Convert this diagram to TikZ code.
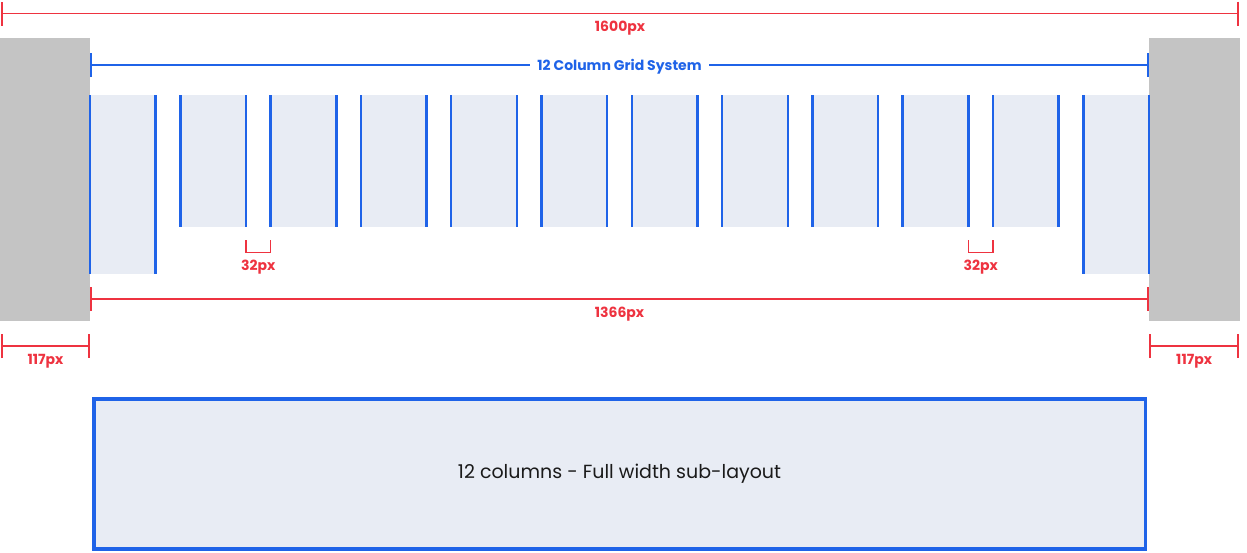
\documentclass[tikz,border=0pt]{standalone}
\usepackage{fontspec}
\setmainfont{Poppins}
\usepackage{tikz}
\usetikzlibrary{shapes,arrows.meta,positioning}
\definecolor{gridblue}{HTML}{1F63E8}
\definecolor{dimred}{HTML}{EE3340}
\definecolor{margingray}{HTML}{C4C4C4}
\definecolor{colfill}{HTML}{E8ECF4}
\definecolor{textblack}{HTML}{1A1A1A}

\begin{document}
\begin{tikzpicture}[x=1pt, y=-1pt, inner sep=0pt, outer sep=0pt]
        \tikzstyle{margin} = [rectangle, fill=margingray, minimum width=90pt, minimum height=283pt, anchor=north west]
        \tikzstyle{colline} = [draw=gridblue, line width=2.5pt]
        \tikzstyle{column} = [rectangle, fill=colfill, minimum width=65.7pt, anchor=north west, append after command={(\tikzlastnode.north west) edge[colline] (\tikzlastnode.south west) (\tikzlastnode.north east) edge[colline] (\tikzlastnode.south east)}]
        \tikzstyle{tall column} = [column, minimum height=179pt]
        \tikzstyle{short column} = [column, minimum height=132pt]
        \tikzstyle{dim} = [draw=dimred, line width=1.7pt, {Bar[width=24pt, line width=1.8pt]}-{Bar[width=24pt, line width=1.8pt]}]
        \tikzstyle{griddim} = [draw=gridblue, line width=1.7pt, {Bar[width=24pt, line width=2.2pt]}-{Bar[width=24pt, line width=2.2pt]}]
        \tikzstyle{gutter} = [draw=dimred, line width=1.7pt]
        \tikzstyle{dimlabel} = [text=dimred, font=\fontsize{14}{14}\selectfont\bfseries, text height=10pt, text depth=0pt]
        \tikzstyle{subbox} = [rectangle, draw=gridblue, fill=colfill, line width=3.5pt, minimum width=1051.5pt, minimum height=150pt, text=textblack, font=\fontsize{19}{19}\selectfont]

    \path [use as bounding box, fill=white] (0,0) rectangle (1247,552);

    \node [margin] (left margin) at (0,38) {};
    \node [margin, minimum width=91pt] (right margin) at (1149,38) {};

    \node [tall column] (col 1) at (90,95) {};
    \node [right=24.6pt of col 1.north east, short column] (col 2) {};
    \node [right=24.6pt of col 2.north east, short column] (col 3) {};
    \node [right=24.6pt of col 3.north east, short column] (col 4) {};
    \node [right=24.6pt of col 4.north east, short column] (col 5) {};
    \node [right=24.6pt of col 5.north east, short column] (col 6) {};
    \node [right=24.6pt of col 6.north east, short column] (col 7) {};
    \node [right=24.6pt of col 7.north east, short column] (col 8) {};
    \node [right=24.6pt of col 8.north east, short column] (col 9) {};
    \node [right=24.6pt of col 9.north east, short column] (col 10) {};
    \node [right=24.6pt of col 10.north east, short column] (col 11) {};
    \node [right=24.6pt of col 11.north east, tall column] (col 12) {};

    \coordinate (page left) at (0.9,13.5);
    \coordinate (page right) at (1239.2,13.5);
    \coordinate (grid left) at (90,65);
    \coordinate (grid right) at (1149,65);
    \coordinate (content left) at (90,299);
    \coordinate (content right) at (1149,299);
    \coordinate (left margin start) at (0.9,346);
    \coordinate (left margin end) at (90,346);
    \coordinate (right margin start) at (1149,346);
    \coordinate (right margin end) at (1239.2,346);
    \coordinate [below=13pt of col 2.south east] (gutter a left);
    \coordinate [below=13pt of col 3.south west] (gutter a right);
    \coordinate [below=13pt of col 10.south east] (gutter b left);
    \coordinate [below=13pt of col 11.south west] (gutter b right);

    \path [dim] (page left) -- node [dimlabel, below=7.5pt] {1600px} (page right);
    \path [griddim] (grid left) -- node [fill=white, inner xsep=7pt, text=gridblue, font=\fontsize{14}{14}\selectfont\bfseries, text height=10pt, text depth=0pt] {12 Column Grid System} (grid right);
    \path [dim] (content left) -- node [dimlabel, below=8.5pt] {1366px} (content right);
    \path [dim] (left margin start) -- node [dimlabel, below=8.5pt] {117px} (left margin end);
    \path [dim] (right margin start) -- node [dimlabel, below=8.5pt] {117px} (right margin end);

    \path [gutter] (gutter a left) -- ++(0,12.5) -| node [pos=0.25, dimlabel, below=8pt] {32px} (gutter a right);
    \path [gutter] (gutter b left) -- ++(0,12.5) -| node [pos=0.25, dimlabel, below=8pt] {32px} (gutter b right);

    \node [subbox] (sub layout) at (619.5,474.2) {12 columns - Full width sub-layout};
\end{tikzpicture}
\end{document}
